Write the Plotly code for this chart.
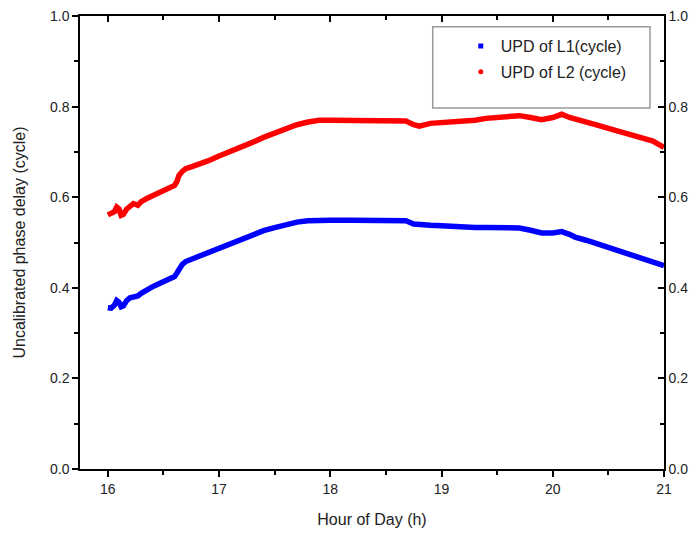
import plotly.graph_objects as go

hours = [16.00, 16.03, 16.06, 16.08, 16.10, 16.12, 16.14, 16.17, 16.20, 16.23, 16.27, 16.30,
         16.35, 16.40, 16.45, 16.50, 16.55, 16.60, 16.62, 16.64, 16.67, 16.70, 16.75, 16.80,
         16.90, 17.00, 17.10, 17.20, 17.30, 17.40, 17.50, 17.60, 17.70, 17.80, 17.90, 18.00,
         18.20, 18.40, 18.60, 18.68, 18.75, 18.80, 18.90, 19.00, 19.10, 19.20, 19.30, 19.40,
         19.50, 19.60, 19.70, 19.80, 19.90, 20.00, 20.08, 20.15, 20.20, 20.30, 20.40, 20.50,
         20.60, 20.70, 20.80, 20.90, 21.00]

upd_l1 = [0.356, 0.355, 0.362, 0.372, 0.368, 0.358, 0.360, 0.372, 0.378, 0.380, 0.382, 0.388,
          0.396, 0.402, 0.408, 0.413, 0.418, 0.425, 0.432, 0.442, 0.452, 0.458, 0.463, 0.469,
          0.478, 0.488, 0.497, 0.507, 0.517, 0.526, 0.533, 0.540, 0.545, 0.548, 0.549, 0.549,
          0.549, 0.549, 0.549, 0.548, 0.541, 0.539, 0.538, 0.537, 0.535, 0.534, 0.533, 0.533,
          0.533, 0.534, 0.532, 0.527, 0.521, 0.521, 0.524, 0.518, 0.512, 0.505, 0.497, 0.489,
          0.479, 0.471, 0.464, 0.458, 0.449]

upd_l2 = [0.561, 0.563, 0.568, 0.578, 0.574, 0.560, 0.562, 0.574, 0.582, 0.586, 0.582, 0.590,
          0.597, 0.603, 0.609, 0.614, 0.619, 0.626, 0.634, 0.648, 0.657, 0.663, 0.667, 0.671,
          0.680, 0.691, 0.700, 0.710, 0.721, 0.732, 0.742, 0.752, 0.760, 0.766, 0.770, 0.770,
          0.770, 0.770, 0.770, 0.768, 0.760, 0.757, 0.763, 0.764, 0.765, 0.768, 0.770, 0.774,
          0.777, 0.779, 0.780, 0.776, 0.771, 0.776, 0.783, 0.776, 0.772, 0.766, 0.759, 0.752,
          0.746, 0.739, 0.731, 0.724, 0.710]

x_ticks = [16, 17, 18, 19, 20, 21]
y_ticks = [0.0, 0.2, 0.4, 0.6, 0.8, 1.0]
names = ["UPD of L1(cycle)", "UPD of L2 (cycle)"]
colors = ["#0000FF", "#FF0000"]
symbols = ["square", "circle"]

FONT = "Liberation Sans, Arial, sans-serif"

fig = go.Figure()
for ys, c in zip([upd_l1, upd_l2], colors):
    fig.add_trace(go.Scatter(x=hours, y=ys, mode="lines",
                             line=dict(color=c, width=5.5), showlegend=False))
for i, (n, c, s) in enumerate(zip(names, colors, symbols)):
    fig.add_trace(go.Scatter(x=[None], y=[None], mode="markers", name=n,
                             legendgroup=str(i),
                             marker=dict(color=c, size=5, symbol=s)))
# helper trace for mirrored axes
fig.add_trace(go.Scatter(x=[None], y=[None], xaxis="x2", yaxis="y2",
                         showlegend=False, hoverinfo="skip"))

axis_common = dict(showline=True, linecolor="black", linewidth=1.5,
                   showgrid=False, zeroline=False, tickcolor="black",
                   automargin=False,
                   tickfont=dict(family=FONT, size=14, color="#222"))

fig.update_layout(
    width=694, height=537,
    margin=dict(l=80, r=30, t=16, b=68),
    paper_bgcolor="white", plot_bgcolor="white",
    font=dict(family=FONT, color="#222"),
    xaxis=dict(range=[15.75, 21], tickvals=x_ticks, ticks="outside", ticklen=6,
               tickwidth=1.5,
               minor=dict(ticks="outside", dtick=0.5, tick0=16, ticklen=4,
                          tickcolor="black", tickwidth=1.5),
               title=dict(text="Hour of Day (h)", font=dict(family=FONT, size=16),
                          standoff=18),
               **axis_common),
    xaxis2=dict(range=[15.75, 21], overlaying="x", side="top", tickvals=x_ticks,
                ticks="inside", ticklen=6, tickwidth=1.5, showticklabels=False,
                minor=dict(ticks="inside", dtick=0.5, tick0=16, ticklen=4,
                           tickcolor="black", tickwidth=1.5),
                **axis_common),
    yaxis=dict(range=[0, 1], tickvals=y_ticks, tickformat=".1f", ticks="outside",
               ticklen=6, tickwidth=1.5,
               minor=dict(ticks="outside", dtick=0.1, tick0=0, ticklen=4,
                          tickcolor="black", tickwidth=1.5),
               title=dict(text="Uncalibrated phase delay (cycle)",
                          font=dict(family=FONT, size=16), standoff=20),
               **axis_common),
    yaxis2=dict(range=[0, 1], overlaying="y", side="right", tickvals=y_ticks,
                tickformat=".1f", ticks="inside", ticklen=6, tickwidth=1.5,
                showticklabels=True,
                minor=dict(ticks="inside", dtick=0.1, tick0=0, ticklen=4,
                           tickcolor="black", tickwidth=1.5),
                **axis_common),
    legend=dict(x=0.652, y=0.971, xanchor="left", yanchor="top",
                bgcolor="rgba(0,0,0,0)", borderwidth=0,
                font=dict(family=FONT, size=16, color="#222"),
                tracegroupgap=2),
    shapes=[dict(type="rect", xref="paper", yref="paper",
                 x0=0.604, x1=0.976, y0=0.797, y1=0.976,
                 line=dict(color="#999999", width=1.5), fillcolor="white",
                 layer="below")],
)

fig.write_html("out.html")
